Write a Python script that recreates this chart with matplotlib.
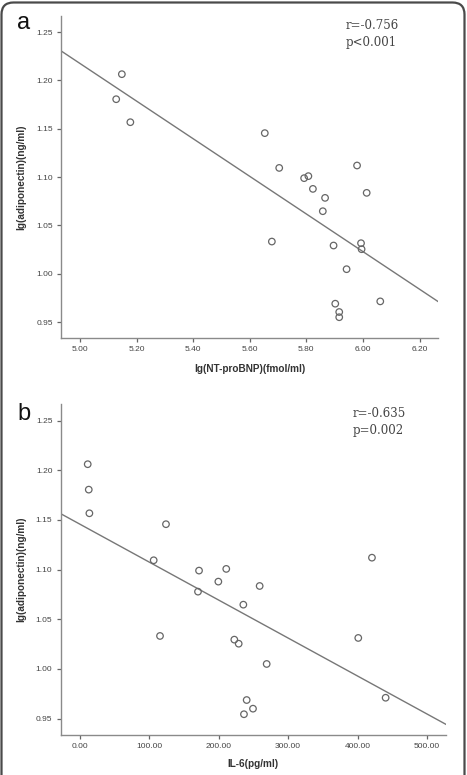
import numpy as np
import matplotlib
matplotlib.use("Agg")
import matplotlib.pyplot as plt
from matplotlib.patches import FancyBboxPatch
from matplotlib.transforms import IdentityTransform

# ---- data ----
adiponectin = [1.2065, 1.1806, 1.1568, 1.1455, 1.1095, 1.0989, 1.1010, 1.0878,
               1.0785, 1.1120, 1.0837, 1.0647, 1.0333, 1.0292, 1.0316, 1.0254,
               1.0047, 0.9690, 0.9604, 0.9550, 0.9714]
nt_probnp = [5.148, 5.128, 5.178, 5.653, 5.704, 5.792, 5.807, 5.823,
             5.866, 5.979, 6.013, 5.858, 5.678, 5.896, 5.993, 5.995,
             5.942, 5.902, 5.916, 5.916, 6.061]
adiponectin_b = [1.2061, 1.1805, 1.1567, 1.1457, 1.1094, 1.0990, 1.1007, 1.1120,
                 1.0879, 1.0835, 1.0778, 1.0647, 1.0332, 1.0295, 1.0254, 1.0312,
                 1.0050, 0.9687, 0.9600, 0.9544, 0.9710]
il6 = [11.5, 13.0, 13.9, 124.2, 106.5, 171.8, 211.0, 420.8,
       199.6, 259.1, 170.3, 235.6, 115.6, 222.6, 228.9, 401.1,
       269.2, 240.4, 249.5, 236.5, 440.5]

yticks = [0.95, 1.00, 1.05, 1.10, 1.15, 1.20, 1.25]
xticks_a = [5.00, 5.20, 5.40, 5.60, 5.80, 6.00, 6.20]
xticks_b = [0, 100, 200, 300, 400, 500]
stats_a = ["r=-0.756", "p<0.001"]
stats_b = ["r=-0.635", "p=0.002"]

W, H = 467, 775
fig = plt.figure(figsize=(W / 100, H / 100), dpi=100)

# outer rounded frame
frame = FancyBboxPatch((1.5, -30), 463, 773 + 30 - 0.5,
                       boxstyle="round,pad=0,rounding_size=12",
                       transform=IdentityTransform(), fill=False,
                       edgecolor="#4a4a4a", linewidth=1.6)
fig.patches.append(frame)

gray = "#8a8a8a"
tcol = "#444444"


def panel(rect, x, y, xlim, xticks, xfmt, xlabel, stats, stxt_xy, letter, letter_xy, xlpad):
    ax = fig.add_axes(rect)
    ax.scatter(x, y, s=22, facecolors="none", edgecolors="#666666", linewidths=0.9, zorder=3)
    k, b = np.polyfit(x, y, 1)
    xx = np.array(xlim)
    ax.plot(xx, k * xx + b, color="#777777", lw=1.0, zorder=2)
    ax.set_xlim(xlim)
    ax.set_ylim(0.9335, 1.2667)
    ax.set_yticks(yticks)
    ax.set_yticklabels([f"{v:.2f}" for v in yticks])
    ax.set_xticks(xticks)
    ax.set_xticklabels([xfmt(v) for v in xticks])
    for s in ("top", "right"):
        ax.spines[s].set_visible(False)
    for s in ("left", "bottom"):
        ax.spines[s].set_color(gray)
        ax.spines[s].set_linewidth(1.0)
    ax.tick_params(axis="both", length=3, width=0.9, color="#666666",
                   labelsize=6, labelcolor=tcol, pad=3)
    for lab in ax.get_xticklabels() + ax.get_yticklabels():
        lab.set_family("Liberation Sans")
    ax.set_xlabel(xlabel, fontsize=7.2, fontweight="bold", family="Liberation Sans",
                  color="#333333", labelpad=xlpad)
    ax.set_ylabel("lg(adiponectin)(ng/ml)", fontsize=7.2, fontweight="bold",
                  family="Liberation Sans", color="#333333", labelpad=7)
    ax.text(stxt_xy[0], stxt_xy[1], stats[0], transform=ax.transAxes, family="DejaVu Serif",
            fontsize=8.5, color=tcol, va="center", ha="left")
    ax.text(stxt_xy[0], stxt_xy[1] - 0.05, stats[1], transform=ax.transAxes, family="DejaVu Serif",
            fontsize=8.5, color=tcol, va="center", ha="left")
    fig.text(letter_xy[0], letter_xy[1], letter, fontsize=17, family="Liberation Sans",
             color="#111111", ha="left", va="baseline")
    return ax


panel([61 / W, 1 - 338 / H, 377 / W, 322 / H], nt_probnp, adiponectin,
      (4.933, 6.265), xticks_a, lambda v: f"{v:.2f}", "lg(NT-proBNP)(fmol/ml)",
      stats_a, (0.756, 0.969), "a", (17 / W, 1 - 29 / H), 8)

panel([60.7 / W, 1 - 735 / H, 385 / W, 331 / H], il6, adiponectin_b,
      (-27.4, 527), xticks_b, lambda v: f"{v:.2f}", "IL-6(pg/ml)",
      stats_b, (0.759, 0.970), "b", (17 / W, 1 - 420 / H), 6)

fig.savefig("out.png", dpi=100)
